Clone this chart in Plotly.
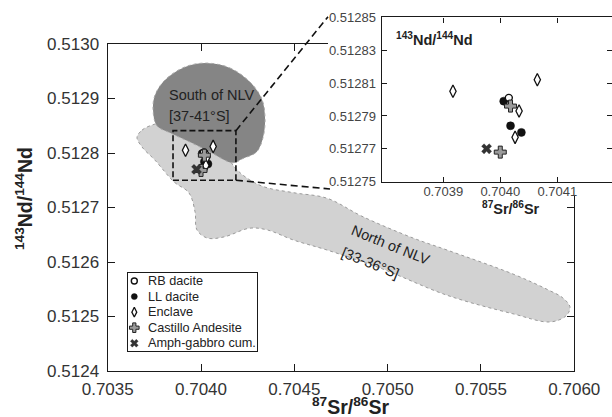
import plotly.graph_objects as go

# ---------------------------------------------------------------------------
# Sample data: 87Sr/86Sr and 143Nd/144Nd
# ---------------------------------------------------------------------------
RB_SR = [0.704015]
RB_ND = [0.512801]
LL_SR = [0.704006, 0.704018, 0.704037]
LL_ND = [0.512799, 0.512784, 0.512780]
ENC_SR = [0.703917, 0.704065, 0.704033, 0.704026]
ENC_ND = [0.512805, 0.512812, 0.512793, 0.512777]
CAS_SR = [0.704018, 0.704000]
CAS_ND = [0.512796, 0.512768]
AMPH_SR = [0.703976]
AMPH_ND = [0.512770]

# Regional fields (outline vertices)
SOUTH_SR = [0.70403, 0.704155, 0.70426, 0.704325, 0.704343, 0.704332, 0.704298,
            0.704225, 0.704171, 0.704048, 0.703941, 0.703834, 0.703764, 0.703743,
            0.703753, 0.703807, 0.703914, 0.70403]
SOUTH_ND = [0.512965, 0.512956, 0.512931, 0.5129, 0.512864, 0.512828, 0.512802,
            0.51279, 0.512782, 0.512802, 0.51282, 0.512837, 0.51285, 0.512879,
            0.512906, 0.512934, 0.512958, 0.512965]
NORTH_SR = [0.703657, 0.703684, 0.703727, 0.703807, 0.703914, 0.704021, 0.704112,
            0.70418, 0.704246, 0.704337, 0.704498, 0.704675, 0.704868, 0.705136,
            0.705318, 0.705671, 0.705859, 0.705939, 0.705977, 0.705955, 0.70587,
            0.705671, 0.705318, 0.704959, 0.704675, 0.704498, 0.704353, 0.70426,
            0.704123, 0.704033, 0.703978, 0.703968, 0.703935, 0.703855, 0.703753,
            0.703684, 0.703657]
NORTH_ND = [0.512829, 0.512842, 0.51285, 0.512857, 0.512857, 0.512842, 0.512809,
            0.512774, 0.512754, 0.512738, 0.512727, 0.512717, 0.512683, 0.512644,
            0.512622, 0.512578, 0.512549, 0.512534, 0.512517, 0.512501, 0.51249,
            0.512505, 0.512539, 0.512589, 0.512622, 0.51264, 0.512659, 0.512662,
            0.512646, 0.512644, 0.512659, 0.512692, 0.512727, 0.512747, 0.512787,
            0.512811, 0.512829]

# Axis settings
MAIN_X_RANGE = [0.7035, 0.7060]
MAIN_Y_RANGE = [0.5124, 0.5130]
INSET_X_RANGE = [0.703792, 0.704196]
INSET_Y_RANGE = [0.51275, 0.51285]
INSET_X_TICKS = [0.7039, 0.7040, 0.7041]
ZOOM_BOX = dict(x0=0.70385, x1=0.704187, y0=0.51275, y1=0.512841)

W, H = 612, 417
FONT = "Liberation Sans, Arial, sans-serif"


def px(x):
    return x / W


def py(y):
    return 1 - y / H


MAIN_XDOM = [px(107.7), px(574.3)]
MAIN_YDOM = [py(371), py(44)]
INSET_XDOM = [px(381.7), 1.0]
INSET_YDOM = [py(181.7), py(17.3)]
COVER_XDOM = [px(328), 1.0]
COVER_YDOM = [py(195), 1.0]
LEG_XDOM = [px(127.5), px(256.7)]
LEG_YDOM = [py(351), py(273.3)]


def to_paper(v, rng, dom):
    return dom[0] + (v - rng[0]) / (rng[1] - rng[0]) * (dom[1] - dom[0])


GROUPS = [
    # name, sr, nd, symbol, size, fill, line colour, line width
    ("LL dacite", LL_SR, LL_ND, "circle", 8, "#111111", "#111111", 0.5),
    ("RB dacite", RB_SR, RB_ND, "circle", 7, "white", "#111111", 1.4),
    ("Enclave", ENC_SR, ENC_ND, "diamond-tall", 9, "white", "#111111", 1.3),
    ("Castillo Andesite", CAS_SR, CAS_ND, "cross", 10, "#9a9a9a", "#222222", 1.0),
    ("Amph-gabbro cum.", AMPH_SR, AMPH_ND, "x", 9, "#333333", "#333333", 0.3),
]
LEGEND_ORDER = ["RB dacite", "LL dacite", "Enclave", "Castillo Andesite", "Amph-gabbro cum."]

fig = go.Figure()

# Regional fields
fig.add_trace(go.Scatter(
    x=NORTH_SR, y=NORTH_ND, mode="lines", fill="toself",
    fillcolor="#d2d2d2", line=dict(color="#9a9a9a", width=1, dash="dot",
                                   shape="spline", smoothing=1.0),
    showlegend=False, hoverinfo="skip", xaxis="x", yaxis="y"))
fig.add_trace(go.Scatter(
    x=SOUTH_SR, y=SOUTH_ND, mode="lines", fill="toself",
    fillcolor="#858585", line=dict(color="#a8a8a8", width=1, dash="dot",
                                   shape="spline", smoothing=1.0),
    showlegend=False, hoverinfo="skip", xaxis="x", yaxis="y"))

# Samples on the main diagram and in the inset
for axes in (("x", "y"), ("x4", "y4")):
    for name, sr, nd, sym, size, fillc, linec, lw in GROUPS:
        fig.add_trace(go.Scatter(
            x=sr, y=nd, mode="markers", name=name, showlegend=False,
            marker=dict(symbol=sym, size=size, color=fillc,
                        line=dict(color=linec, width=lw)),
            xaxis=axes[0], yaxis=axes[1]))

# Legend panel
style = {g[0]: g for g in GROUPS}
n = len(LEGEND_ORDER)
for i, name in enumerate(LEGEND_ORDER):
    _, _, _, sym, size, fillc, linec, lw = style[name]
    fig.add_trace(go.Scatter(
        x=[0.5], y=[n - i - 0.5], mode="markers", showlegend=False,
        hoverinfo="skip",
        marker=dict(symbol=sym, size=max(size - 2, 6), color=fillc,
                    line=dict(color=linec, width=lw)),
        xaxis="x2", yaxis="y2"))
    fig.add_annotation(x=1.35, y=n - i - 0.5, xref="x2", yref="y2", text=name,
                       showarrow=False, xanchor="left", yanchor="middle",
                       font=dict(family=FONT, size=12.7, color="#222222"))

# Empty panel that masks the main frame behind the inset
fig.add_trace(go.Scatter(x=[], y=[], xaxis="x3", yaxis="y3", showlegend=False))

axis_common = dict(showgrid=False, zeroline=False, showline=True,
                   ticks="inside", mirror="ticks", linecolor="#1a1a1a",
                   tickcolor="#1a1a1a", automargin=False)
plain_axis = dict(showgrid=False, zeroline=False, showticklabels=False,
                  automargin=False, fixedrange=True)

fig.update_layout(
    width=W, height=H, autosize=False,
    margin=dict(l=0, r=0, t=0, b=0, pad=0),
    paper_bgcolor="white", plot_bgcolor="white",
    font=dict(family=FONT, color="#333333"),
    showlegend=False,
    xaxis=dict(domain=MAIN_XDOM, range=MAIN_X_RANGE, anchor="y",
               tick0=0.7035, dtick=0.0005, tickformat=".4f",
               ticklen=7, tickwidth=1.3, linewidth=1.4,
               ticklabelstandoff=2,
               tickfont=dict(family=FONT, size=17, color="#333333"),
               **axis_common),
    yaxis=dict(domain=MAIN_YDOM, range=MAIN_Y_RANGE, anchor="x",
               tick0=0.5124, dtick=0.0001, tickformat=".4f",
               ticklen=7, tickwidth=1.3, linewidth=1.4,
               ticklabelstandoff=4,
               tickfont=dict(family=FONT, size=17, color="#333333"),
               **axis_common),
    xaxis2=dict(domain=LEG_XDOM, range=[0, 9.5], anchor="y2",
                showline=True, mirror=True, linecolor="#1a1a1a", linewidth=1.3,
                **plain_axis),
    yaxis2=dict(domain=LEG_YDOM, range=[0, n], anchor="x2",
                showline=True, mirror=True, linecolor="#1a1a1a", linewidth=1.3,
                **plain_axis),
    xaxis3=dict(domain=COVER_XDOM, range=[0, 1], anchor="y3", showline=False,
                **plain_axis),
    yaxis3=dict(domain=COVER_YDOM, range=[0, 1], anchor="x3", showline=False,
                **plain_axis),
    xaxis4=dict(domain=INSET_XDOM, range=INSET_X_RANGE, anchor="y4",
                tickvals=INSET_X_TICKS, tickformat=".4f",
                ticklen=5, tickwidth=1.2, linewidth=1.4,
                ticklabelstandoff=-3,
                tickfont=dict(family=FONT, size=13, color="#444444"),
                **axis_common),
    yaxis4=dict(domain=INSET_YDOM, range=INSET_Y_RANGE, anchor="x4",
                tick0=0.51275, dtick=0.00002, tickformat=".5f",
                ticklen=5, tickwidth=1.2, linewidth=1.4,
                ticklabelstandoff=2,
                tickfont=dict(family=FONT, size=13, color="#444444"),
                **axis_common),
)

# Zoom box on the main diagram
fig.add_shape(type="rect", xref="x", yref="y", layer="above",
              line=dict(color="#111111", width=1.6, dash="6px,3px"),
              **ZOOM_BOX)

# Connectors from the zoom box to the inset
corner_x = to_paper(ZOOM_BOX["x1"], MAIN_X_RANGE, MAIN_XDOM)
corner_top = to_paper(ZOOM_BOX["y1"], MAIN_Y_RANGE, MAIN_YDOM)
corner_bot = to_paper(ZOOM_BOX["y0"], MAIN_Y_RANGE, MAIN_YDOM)
for (y0, x1, y1) in ((corner_top, px(328), py(16.7)), (corner_bot, px(330), py(189))):
    fig.add_shape(type="line", xref="paper", yref="paper", layer="above",
                  x0=corner_x, y0=y0, x1=x1, y1=y1,
                  line=dict(color="#111111", width=1.6, dash="7px,4px"))

# Field labels
label_font = dict(family=FONT, size=14.5, color="#222222")
fig.add_annotation(x=0.70382, y=0.512906, xref="x", yref="y",
                   text="South of NLV", showarrow=False, xanchor="left",
                   yanchor="middle", font=label_font)
fig.add_annotation(x=0.70382, y=0.512868, xref="x", yref="y",
                   text="[37-41°S]", showarrow=False, xanchor="left",
                   yanchor="middle", font=label_font)
fig.add_annotation(x=0.705015, y=0.512631, xref="x", yref="y",
                   text="North of NLV", showarrow=False, textangle=22,
                   xanchor="center", yanchor="middle", font=label_font)
fig.add_annotation(x=0.704908, y=0.512598, xref="x", yref="y",
                   text="[33-36°S]", showarrow=False, textangle=22,
                   xanchor="center", yanchor="middle", font=label_font)


# Axis titles
def title(x, y, text, size, angle=0):
    fig.add_annotation(x=px(x), y=py(y), xref="paper", yref="paper",
                       text=text, showarrow=False, textangle=angle,
                       xanchor="center", yanchor="middle",
                       font=dict(family=FONT, size=size, color="#222222"))


title(350, 406, "<b><sup>87</sup>Sr/<sup>86</sup>Sr</b>", 19.5)
title(24, 199, "<b><sup>143</sup>Nd/<sup>144</sup>Nd</b>", 19.5, -90)
title(434, 39, "<b><sup>143</sup>Nd/<sup>144</sup>Nd</b>", 14.5)
title(511, 208, "<b><sup>87</sup>Sr/<sup>86</sup>Sr</b>", 14.5)

fig.write_html("out.html")
